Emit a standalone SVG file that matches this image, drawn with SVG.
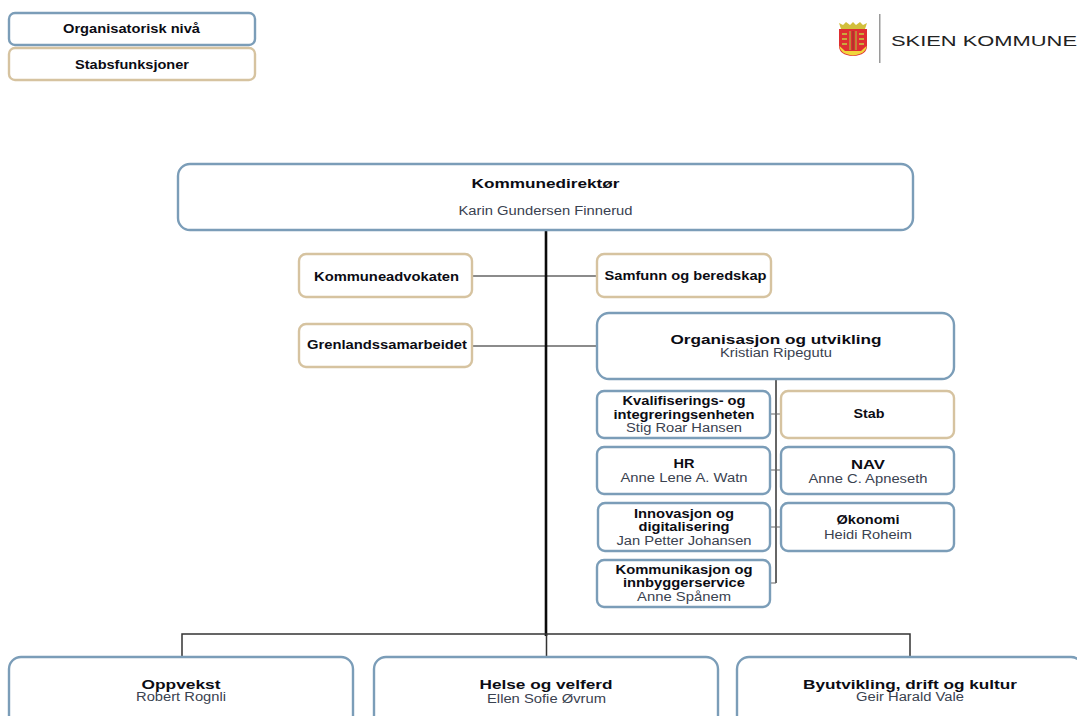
<svg xmlns="http://www.w3.org/2000/svg" width="1077" height="716" viewBox="0 0 1077 716">
<style>
.org{fill:#fff;stroke:#7b9db8;stroke-width:2.4}
.stf{fill:#fff;stroke:#d6c3a0;stroke-width:2.4}
text{font-family:"Liberation Sans",Arial,sans-serif;text-anchor:middle}
.b{font-weight:bold;fill:#0c0c14}
.n{fill:#3a4250}
.l1{stroke:#666;stroke-width:1.3;fill:none}
.l2{stroke:#333;stroke-width:1.5;fill:none}
.l3{stroke:#0a0a0a;stroke-width:2.6;fill:none}
.st{stroke:#666;stroke-width:1.2;fill:none}
</style>
<g id="connectors">
<path class="l1" d="M473 276H597M473 346H597"/>
<path class="l3" d="M546 231V636"/>
<path class="l2" d="M776 379V583"/>
<path class="st" d="M770 583H776M770 414H781M770 470H781M770 527H781"/>
<path class="l2" d="M182 656V634H910V656M546.500 634V656"/>
</g>
<g id="legend-org"><rect class="org" x="9" y="13" width="246" height="32" rx="6"/><text class="b" x="131.500" y="33" font-size="12.500" textLength="137" lengthAdjust="spacingAndGlyphs">Organisatorisk nivå</text></g>
<g id="legend-stab"><rect class="stf" x="9" y="48" width="246" height="32" rx="6"/><text class="b" x="132" y="69" font-size="12.500" textLength="114" lengthAdjust="spacingAndGlyphs">Stabsfunksjoner</text></g>
<g id="logo">
<path d="M839 23L843 25L846 22L850 25L853 22L856 25L860 22L863 25L867 23L865 29H841Z" fill="#d2bf3c"/>
<path d="M839 29H867V46Q867 55 853 56Q839 55 839 46Z" fill="#df2e32"/>
<path d="M839.500 46Q840 54 853 55.500Q866 54 866.500 46L861 51H845Z" fill="#f0d63c"/>
<path d="M850 31V50M856 31V50" stroke="#b9983a" stroke-width="1.600" fill="none"/>
<path d="M853 31V50" stroke="#8a3a24" stroke-width="1" fill="none"/>
<path d="M842 34H847M859 34H864M842 39H847M859 39H864M842 44H847M859 44H864" stroke="#c9a83c" stroke-width="2" fill="none"/>
<rect x="879" y="14" width="1.500" height="49" fill="#9a9a9a"/>
<text x="984" y="46" font-size="15.500" fill="#222" textLength="186" lengthAdjust="spacingAndGlyphs">SKIEN KOMMUNE</text>
</g>
<g id="kommunedirektor"><rect class="org" x="178" y="164" width="735" height="66" rx="12"/><text class="b" x="545.500" y="188" font-size="13.500" textLength="148" lengthAdjust="spacingAndGlyphs">Kommunedirektør</text><text class="n" x="545.500" y="215" font-size="12.500" textLength="174" lengthAdjust="spacingAndGlyphs">Karin Gundersen Finnerud</text></g>
<g id="kommuneadvokaten"><rect class="stf" x="299" y="254" width="173" height="43" rx="7"/><text class="b" x="386.500" y="281" font-size="12" textLength="145" lengthAdjust="spacingAndGlyphs">Kommuneadvokaten</text></g>
<g id="samfunn"><rect class="stf" x="597" y="254" width="174" height="43" rx="7"/><text class="b" x="685.500" y="280" font-size="12" textLength="162" lengthAdjust="spacingAndGlyphs">Samfunn og beredskap</text></g>
<g id="grenland"><rect class="stf" x="299" y="324" width="173" height="43" rx="7"/><text class="b" x="387" y="349" font-size="12" textLength="160" lengthAdjust="spacingAndGlyphs">Grenlandssamarbeidet</text></g>
<g id="organisasjon"><rect class="org" x="597" y="313" width="357" height="66" rx="12"/><text class="b" x="776" y="344" font-size="13.500" textLength="211" lengthAdjust="spacingAndGlyphs">Organisasjon og utvikling</text><text class="n" x="776" y="357" font-size="12.500" textLength="112" lengthAdjust="spacingAndGlyphs">Kristian Ripegutu</text></g>
<g id="kvalifisering"><rect class="org" x="597" y="391" width="173" height="47" rx="7"/><text class="b" x="684" y="405" font-size="12" textLength="123" lengthAdjust="spacingAndGlyphs">Kvalifiserings- og</text><text class="b" x="684" y="419" font-size="12" textLength="141" lengthAdjust="spacingAndGlyphs">integreringsenheten</text><text class="n" x="684" y="432" font-size="12" textLength="116" lengthAdjust="spacingAndGlyphs">Stig Roar Hansen</text></g>
<g id="stab"><rect class="stf" x="781" y="391" width="173" height="47" rx="7"/><text class="b" x="869" y="418" font-size="12" textLength="31" lengthAdjust="spacingAndGlyphs">Stab</text></g>
<g id="hr"><rect class="org" x="597" y="447" width="173" height="47" rx="7"/><text class="b" x="684" y="468" font-size="12.500" textLength="21" lengthAdjust="spacingAndGlyphs">HR</text><text class="n" x="684" y="482" font-size="12" textLength="127" lengthAdjust="spacingAndGlyphs">Anne Lene A. Watn</text></g>
<g id="nav"><rect class="org" x="781" y="447" width="173" height="47" rx="7"/><text class="b" x="868" y="468.500" font-size="13.500" textLength="34" lengthAdjust="spacingAndGlyphs">NAV</text><text class="n" x="868" y="483" font-size="12" textLength="119" lengthAdjust="spacingAndGlyphs">Anne C. Apneseth</text></g>
<g id="innovasjon"><rect class="org" x="598" y="503" width="172" height="48" rx="7"/><text class="b" x="684" y="518" font-size="12" textLength="100" lengthAdjust="spacingAndGlyphs">Innovasjon og</text><text class="b" x="684" y="531" font-size="12" textLength="91" lengthAdjust="spacingAndGlyphs">digitalisering</text><text class="n" x="684" y="545" font-size="12" textLength="135" lengthAdjust="spacingAndGlyphs">Jan Petter Johansen</text></g>
<g id="okonomi"><rect class="org" x="781" y="503" width="173" height="48" rx="7"/><text class="b" x="868" y="524" font-size="12" textLength="63" lengthAdjust="spacingAndGlyphs">Økonomi</text><text class="n" x="868" y="539" font-size="12" textLength="88" lengthAdjust="spacingAndGlyphs">Heidi Roheim</text></g>
<g id="kommunikasjon"><rect class="org" x="597" y="560" width="173" height="47" rx="7"/><text class="b" x="684" y="574" font-size="12" textLength="137" lengthAdjust="spacingAndGlyphs">Kommunikasjon og</text><text class="b" x="684" y="587" font-size="12" textLength="122" lengthAdjust="spacingAndGlyphs">innbyggerservice</text><text class="n" x="684" y="601" font-size="12" textLength="94" lengthAdjust="spacingAndGlyphs">Anne Spånem</text></g>
<g id="oppvekst"><rect class="org" x="9" y="657" width="344" height="90" rx="12"/><text class="b" x="181" y="689" font-size="13.500" textLength="79" lengthAdjust="spacingAndGlyphs">Oppvekst</text><text class="n" x="181" y="701" font-size="12.500" textLength="90" lengthAdjust="spacingAndGlyphs">Robert Rognli</text></g>
<g id="helse"><rect class="org" x="374" y="657" width="344" height="90" rx="12"/><text class="b" x="546" y="689" font-size="13.500" textLength="133" lengthAdjust="spacingAndGlyphs">Helse og velferd</text><text class="n" x="546.500" y="703" font-size="12.500" textLength="119" lengthAdjust="spacingAndGlyphs">Ellen Sofie Øvrum</text></g>
<g id="byutvikling"><rect class="org" x="737" y="657" width="346" height="90" rx="12"/><text class="b" x="910" y="689" font-size="13.500" textLength="214" lengthAdjust="spacingAndGlyphs">Byutvikling, drift og kultur</text><text class="n" x="910" y="701" font-size="12.500" textLength="108" lengthAdjust="spacingAndGlyphs">Geir Harald Vale</text></g>
</svg>
